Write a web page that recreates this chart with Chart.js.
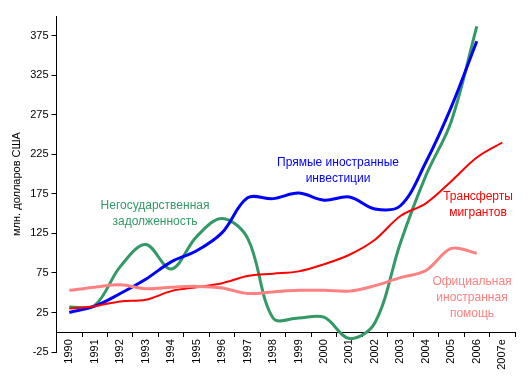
<!DOCTYPE html>
<html>
<head>
<meta charset="utf-8">
<script src="https://cdn.jsdelivr.net/npm/chart.js@4/dist/chart.umd.min.js"></script>
<style>
  body { margin: 0; background: #fff; }
  #wrap { width: 530px; height: 385px; position: relative; }
</style>
</head>
<body>
<div id="wrap"><canvas id="chart"></canvas></div>
<script>
// Data (млн. долларов США)
const years = ['1990', '1991', '1992', '1993', '1994', '1995', '1996', '1997', '1998',
    '1999', '2000', '2001', '2002', '2003', '2004', '2005', '2006', '2007e'];
const directInvestment = [25, 33, 49, 67, 89, 103, 126, 170, 169, 176, 167, 171, 156, 160, 215, 285, 368, null];
const privateDebt = [32, 34, 83, 111, 80, 121, 144, 119, 18, 18, 19, -8, 12, 113, 198, 267, 387, null];
const remittances = [30, 33, 39, 41, 52, 57, 62, 71, 74, 77, 86, 98, 117, 147, 163, 191, 221, 240];
const officialAid = [53, 57, 60, 55, 57, 58, 56, 49, 51, 53, 53, 52, 59, 69, 78, 106, 100, null];
const yTicks = [-25, 25, 75, 125, 175, 225, 275, 325, 375];

const FONT = '"Liberation Sans", Arial, sans-serif';

// Text labels placed next to the curves
const curveLabels = [
    { lines: ['Прямые иностранные', 'инвестиции'], color: '#0000ff', x: 338, y: 163 },
    { lines: ['Негосударственная', 'задолженность'], color: '#339966', x: 155, y: 206 },
    { lines: ['Трансферты', 'мигрантов'], color: '#ff0000', x: 478, y: 197 },
    { lines: ['Официальная', 'иностранная', 'помощь'], color: '#ff8080', x: 472, y: 282 }
];

const labelPlugin = {
    id: 'curveLabels',
    afterDatasetsDraw(chart) {
        const ctx = chart.ctx;
        ctx.save();
        ctx.font = '12px ' + FONT;
        ctx.textAlign = 'center';
        ctx.textBaseline = 'middle';
        curveLabels.forEach(l => {
            ctx.fillStyle = l.color;
            l.lines.forEach((t, i) => ctx.fillText(t, l.x, l.y + i * 16));
        });
        ctx.restore();
    }
};

function line(label, data, color, width) {
    return {
        label: label,
        data: data,
        borderColor: color,
        backgroundColor: color,
        borderWidth: width,
        pointRadius: 0,
        tension: 0.35,
        fill: false
    };
}

new Chart(document.getElementById('chart'), {
    type: 'line',
    data: {
        labels: years,
        datasets: [
            line('Официальная иностранная помощь', officialAid, '#ff8080', 3),
            line('Трансферты мигрантов', remittances, '#ff0000', 2),
            line('Прямые иностранные инвестиции', directInvestment, '#0000ff', 3),
            line('Негосударственная задолженность', privateDebt, '#339966', 3)
        ]
    },
    options: {
        responsive: true,
        maintainAspectRatio: false,
        animation: false,
        layout: { padding: { left: 6, right: 15, top: 16, bottom: 33 } },
        plugins: {
            legend: { display: false },
            tooltip: { enabled: false }
        },
        scales: {
            x: {
                position: { y: 0 },
                offset: true,
                grid: {
                    offset: true,
                    drawOnChartArea: false,
                    tickLength: 4,
                    color: '#000'
                },
                border: { display: true, color: '#000', width: 1 },
                ticks: {
                    color: '#000',
                    font: { family: FONT, size: 11 },
                    minRotation: 90,
                    maxRotation: 90,
                    autoSkip: false,
                    padding: 3
                }
            },
            y: {
                min: -25,
                max: 400,
                afterBuildTicks: scale => { scale.ticks = yTicks.map(v => ({ value: v })); },
                grid: {
                    drawOnChartArea: false,
                    tickLength: 5,
                    color: '#000'
                },
                border: { display: true, color: '#000', width: 1 },
                ticks: {
                    color: '#000',
                    font: { family: FONT, size: 11 },
                    padding: 3
                },
                title: {
                    display: true,
                    text: 'млн. долларов США',
                    color: '#000',
                    font: { family: FONT, size: 11 },
                    padding: 4
                }
            }
        }
    },
    plugins: [labelPlugin]
});
</script>
</body>
</html>
